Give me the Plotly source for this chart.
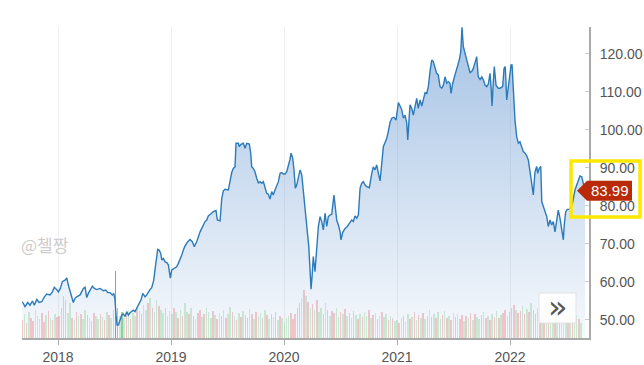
import plotly.graph_objects as go

# ---- price series (decimal year, close) ----
years = [
    2017.684, 2017.708, 2017.732, 2017.752, 2017.773, 2017.790, 2017.812, 2017.832, 2017.856, 2017.879,
    2017.900, 2017.929, 2017.950, 2017.967, 2017.988, 2018.003, 2018.020, 2018.038, 2018.062, 2018.077,
    2018.091, 2018.106, 2018.121, 2018.135, 2018.150, 2018.165, 2018.195, 2018.224, 2018.239, 2018.254,
    2018.268, 2018.283, 2018.304, 2018.321, 2018.342, 2018.372, 2018.401, 2018.422, 2018.440, 2018.460,
    2018.481, 2018.493, 2018.504, 2018.513, 2018.522, 2018.534, 2018.549, 2018.564, 2018.578, 2018.593,
    2018.608, 2018.622, 2018.637, 2018.652, 2018.666, 2018.681, 2018.696, 2018.717, 2018.735, 2018.750,
    2018.770, 2018.785, 2018.799, 2018.814, 2018.829, 2018.847, 2018.858, 2018.873, 2018.882, 2018.894,
    2018.909, 2018.918, 2018.932, 2018.947, 2018.962, 2018.976, 2018.985, 2018.994, 2019.006, 2019.029,
    2019.050, 2019.065, 2019.080, 2019.095, 2019.109, 2019.124, 2019.148, 2019.168, 2019.188, 2019.206,
    2019.227, 2019.242, 2019.257, 2019.272, 2019.286, 2019.301, 2019.316, 2019.330, 2019.351, 2019.374,
    2019.398, 2019.410, 2019.434, 2019.449, 2019.463, 2019.478, 2019.507, 2019.522, 2019.537, 2019.551,
    2019.566, 2019.575, 2019.596, 2019.604, 2019.619, 2019.640, 2019.655, 2019.670, 2019.693, 2019.705,
    2019.714, 2019.728, 2019.743, 2019.758, 2019.773, 2019.788, 2019.803, 2019.817, 2019.832, 2019.847,
    2019.861, 2019.876, 2019.891, 2019.905, 2019.920, 2019.935, 2019.950, 2019.965, 2019.980, 2019.994,
    2020.009, 2020.024, 2020.038, 2020.053, 2020.062, 2020.077, 2020.088, 2020.100, 2020.112, 2020.127,
    2020.142, 2020.157, 2020.171, 2020.180, 2020.195, 2020.206, 2020.219, 2020.230, 2020.239, 2020.248,
    2020.259, 2020.274, 2020.289, 2020.304, 2020.319, 2020.334, 2020.348, 2020.363, 2020.378, 2020.392,
    2020.407, 2020.422, 2020.442, 2020.451, 2020.466, 2020.481, 2020.496, 2020.504, 2020.519, 2020.540,
    2020.560, 2020.578, 2020.599, 2020.613, 2020.628, 2020.643, 2020.658, 2020.673, 2020.688, 2020.702,
    2020.717, 2020.732, 2020.755, 2020.776, 2020.790, 2020.805, 2020.820, 2020.835, 2020.850, 2020.865,
    2020.879, 2020.894, 2020.909, 2020.923, 2020.938, 2020.953, 2020.973, 2020.991, 2021.003, 2021.012,
    2021.027, 2021.042, 2021.056, 2021.071, 2021.086, 2021.095, 2021.106, 2021.115, 2021.130, 2021.144,
    2021.159, 2021.174, 2021.188, 2021.204, 2021.219, 2021.233, 2021.248, 2021.263, 2021.277, 2021.292,
    2021.307, 2021.321, 2021.336, 2021.351, 2021.365, 2021.381, 2021.396, 2021.410, 2021.425, 2021.440,
    2021.454, 2021.469, 2021.478, 2021.493, 2021.513, 2021.534, 2021.551, 2021.564, 2021.575, 2021.587,
    2021.602, 2021.617, 2021.631, 2021.646, 2021.661, 2021.675, 2021.693, 2021.705, 2021.719, 2021.735,
    2021.750, 2021.764, 2021.779, 2021.794, 2021.808, 2021.823, 2021.832, 2021.841, 2021.852, 2021.861,
    2021.876, 2021.896, 2021.912, 2021.935, 2021.947, 2021.958, 2021.971, 2021.985, 2022.000, 2022.009,
    2022.018, 2022.029, 2022.044, 2022.059, 2022.074, 2022.088, 2022.104, 2022.118, 2022.133, 2022.148,
    2022.162, 2022.177, 2022.192, 2022.206, 2022.221, 2022.236, 2022.245, 2022.259, 2022.272, 2022.281,
    2022.295, 2022.310, 2022.325, 2022.339, 2022.354, 2022.369, 2022.383, 2022.398, 2022.413, 2022.427,
    2022.442, 2022.458, 2022.472, 2022.481, 2022.493, 2022.507, 2022.525, 2022.540, 2022.555, 2022.575,
    2022.590, 2022.605, 2022.619, 2022.635, 2022.649, 2022.664,
]
prices = [
    54.8, 53.5, 54.6, 53.9, 55.0, 53.9, 55.4, 54.6, 54.8, 56.1,
    56.8, 56.6, 57.4, 58.6, 58.0, 57.4, 58.3, 60.1, 60.5, 61.1,
    59.2, 57.4, 56.1, 54.6, 55.7, 56.1, 56.6, 58.3, 58.6, 55.9,
    57.0, 57.9, 58.9, 58.3, 58.0, 58.3, 57.7, 57.9, 57.2, 57.2,
    56.6, 57.0, 55.3, 51.3, 48.7, 48.7, 50.0, 51.3, 51.6, 50.9,
    52.2, 51.3, 51.9, 52.4, 52.6, 52.2, 53.1, 54.4, 55.3, 57.0,
    56.1, 56.6, 57.4, 58.0, 58.5, 60.5, 63.2, 67.1, 68.6, 68.4,
    67.5, 65.8, 66.2, 65.3, 65.1, 64.5, 62.7, 61.0, 63.2, 63.6,
    64.0, 64.9, 65.8, 67.1, 68.4, 69.5, 70.6, 71.2, 70.6, 69.3,
    70.6, 72.1, 73.2, 74.1, 75.0, 75.9, 76.3, 77.4, 77.9, 78.5,
    78.8, 76.3, 76.1, 82.0, 84.0, 84.4, 84.2, 86.8, 88.8, 89.9,
    90.3, 96.5, 96.5, 95.6, 96.2, 96.5, 95.2, 96.5, 96.3, 93.9,
    90.3, 89.9, 89.0, 87.3, 86.1, 86.4, 86.0, 86.4, 84.4, 83.3,
    83.1, 81.8, 83.8, 82.9, 84.2, 85.5, 86.4, 88.6, 88.8, 88.4,
    88.4, 89.0, 90.3, 92.3, 93.9, 92.6, 89.5, 84.7, 85.5, 87.7,
    89.5, 88.2, 84.2, 79.8, 77.2, 73.7, 69.3, 63.2, 58.1, 61.4,
    66.7, 62.7, 69.3, 74.6, 77.2, 75.9, 73.7, 78.1, 74.6, 77.2,
    77.6, 77.8, 82.9, 80.7, 76.3, 75.0, 73.2, 71.1, 73.0, 74.1,
    74.6, 75.4, 76.3, 75.9, 77.4, 76.8, 77.6, 84.7, 86.0, 86.4,
    85.5, 85.1, 84.8, 88.5, 90.3, 89.5, 90.8, 88.6, 86.6, 91.2,
    95.6, 96.7, 97.8, 99.6, 102.0, 103.1, 103.3, 102.6, 104.8, 107.2,
    106.3, 105.3, 103.1, 103.9, 101.8, 97.4, 102.6, 106.6, 105.7, 103.9,
    106.1, 108.3, 105.7, 107.9, 106.3, 108.3, 109.8, 109.6, 111.4, 115.4,
    118.4, 118.0, 116.7, 114.9, 114.5, 111.4, 111.0, 111.8, 114.0, 112.3,
    112.7, 112.3, 109.6, 112.3, 114.5, 116.7, 118.4, 120.6, 127.0, 121.9,
    120.2, 118.4, 116.7, 115.1, 115.4, 116.2, 118.0, 119.3, 114.0, 113.3,
    114.0, 113.2, 111.8, 111.4, 112.1, 114.9, 111.4, 106.3, 112.7, 116.7,
    111.8, 111.0, 111.0, 111.4, 116.2, 116.7, 107.9, 111.4, 114.9, 117.1,
    117.1, 110.5, 102.6, 98.2, 96.5, 96.9, 95.6, 94.3, 93.9, 93.2,
    92.1, 89.5, 86.0, 82.9, 89.0, 90.4, 88.6, 89.9, 90.4, 81.1,
    79.8, 78.1, 77.2, 74.6, 76.3, 75.0, 75.9, 73.2, 76.3, 78.9,
    76.8, 73.7, 71.1, 75.4, 78.5, 79.1, 79.1, 79.8, 81.1, 84.2,
    85.5, 86.8, 87.9, 87.7, 86.0, 83.99,
]

# ---- weekly volume (millions) and up/down flags ----
volume_start = 2017.684
vol_2017 = [18, 24, 15, 26, 20, 17, 28, 22, 19, 25, 16, 23, 27, 20, 18, 24, 21]
dir_2017 = "rgrgrrgggrrgrgrgr"
vol_2018a = [22, 30, 42, 38, 25, 35, 20, 18, 26, 22, 24, 19, 28, 23, 20, 17, 25, 22, 19, 24, 21, 18, 26, 23, 20, 28]
dir_2018a = "rrrrggrgrgrggrgrrggrgrgrgr"
vol_2018b = [67, 30, 22, 26, 20, 24, 28, 19, 25, 22, 30, 27, 24, 33, 28, 35, 40, 30, 26, 38, 32, 28, 25, 30, 22, 27]
dir_2018b = "RGgGgrgrggrgrggrgrggrggrgg"
vol_2019 = [24, 30, 26, 20, 28, 22, 35, 26, 24, 30, 22, 19, 25, 28, 21, 24, 30, 26, 20, 27, 23, 19, 25, 22, 28, 20,
            24, 31, 26, 22, 18, 25, 21, 27, 23, 20, 29, 24, 19, 26, 22, 25, 20, 28, 23, 19, 24, 21, 26, 18, 22, 20]
dir_2019 = "grgrgrggrgrgr rgrgggrgrgrgr ggrgrgrgrrgrg rggrgrgrgrgrg"
vol_2020 = [16, 20, 22, 25, 19, 24, 30, 35, 40, 48, 42, 36, 30, 34, 28, 38, 26, 30, 24, 35, 28, 22, 27, 25, 30, 21,
            26, 24, 29, 22, 25, 20, 27, 23, 19, 24, 21, 26, 22, 28, 20, 23, 25, 19, 22, 26, 21, 24, 18, 22, 20, 17]
dir_2020 = "gggrrrrrgrgrg rgrggrgrgrrgg rgrgrgrgrgrgg rgrgrgrggrgrg"
vol_2021 = [18, 15, 20, 22, 17, 24, 19, 21, 26, 18, 23, 20, 25, 19, 22, 28, 21, 24, 20, 26, 19, 23, 27, 20, 22, 18,
            25, 21, 24, 19, 23, 17, 22, 20, 25, 18, 24, 21, 19, 23, 26, 20, 22, 18, 24, 21, 27, 20, 23, 25, 28, 22]
dir_2021 = "grgrggrgrgrgr grgrgrggrgrgr grgrrgrgrgrgg rgrgrgrgrgrrg"
vol_2022 = [26, 30, 33, 28, 25, 27, 32, 24, 29, 26, 35, 28, 24, 30, 22, 27, 25, 20, 24, 28, 22, 19, 25, 30, 21, 24,
            18, 22, 26, 20, 17, 23, 19, 15]
dir_2022 = "rrrgrrgrgrgrr grgrgrggrgrgg grgrggrg"

y_ticks = [50, 60, 70, 80, 90, 100, 110, 120]
x_ticks = [2018, 2019, 2020, 2021, 2022]
x_labels = ["2018", "2019", "2020", "2021", "2022"]
last_price = 83.99
watermark = "@첼짱"

volumes = vol_2017 + vol_2018a + vol_2018b + vol_2019 + vol_2020 + vol_2021 + vol_2022
dirs = (dir_2017 + dir_2018a + dir_2018b + dir_2019 + dir_2020 + dir_2021 + dir_2022).replace(" ", "")
assert len(volumes) == len(dirs), (len(volumes), len(dirs))
assert len(years) == len(prices), (len(years), len(prices))
vol_x = [volume_start + i / 52.18 for i in range(len(volumes))]
color_map = {
    "r": "rgba(240,125,125,0.40)",
    "g": "rgba(125,205,125,0.34)",
    "R": "rgba(236,80,80,0.8)",
    "G": "rgba(80,185,80,0.6)",
}
vol_colors = [color_map[c] for c in dirs]
vol_widths = [0.0145 if c == "R" else 0.0135 for c in dirs]

Y_MIN, Y_MAX = 45.26, 127.1
X_MIN, X_MAX = 2017.681, 2022.699

fig = go.Figure()
fig.add_trace(go.Bar(
    x=vol_x, y=volumes, marker=dict(color=vol_colors, line=dict(width=0)),
    width=vol_widths, yaxis="y", hoverinfo="skip", showlegend=False,
))
fig.add_trace(go.Scatter(
    x=years, y=prices, mode="lines", yaxis="y2",
    line=dict(color="#2b7bbb", width=1.4),
    fill="tozeroy",
    fillgradient=dict(
        type="vertical", start=Y_MIN, stop=Y_MAX,
        colorscale=[[0, "rgba(70,130,200,0.05)"], [1, "rgba(70,130,200,0.48)"]],
    ),
    showlegend=False,
))

def px_x(p):
    return (p - 22) / 567.0

def px_y(p):
    return (338 - p) / 311.0

ly = (last_price - Y_MIN) / (Y_MAX - Y_MIN)
hh = 10 / 311.0
shapes = [
    # yellow highlight box
    dict(type="rect", xref="paper", yref="paper", x0=px_x(571), x1=px_x(640), y0=px_y(217), y1=px_y(161),
         line=dict(color="rgb(255,232,0)", width=3.5), fillcolor="rgba(0,0,0,0)", layer="above"),
    # price label tag
    dict(type="path", xref="paper", yref="paper",
         path=f"M {px_x(577)},{ly} L {px_x(587)},{ly + hh} L {px_x(632)},{ly + hh} "
              f"L {px_x(632)},{ly - hh} L {px_x(587)},{ly - hh} Z",
         fillcolor="rgb(184,42,8)", line=dict(width=0), layer="above"),
    # scroll button
    dict(type="rect", xref="paper", yref="paper", x0=px_x(539), x1=px_x(576), y0=px_y(323), y1=px_y(293),
         fillcolor="rgba(255,255,255,0.9)", line=dict(color="#e2e2e2", width=1), layer="above"),
]
annotations = [
    dict(text=f"{last_price:.2f}", xref="paper", yref="paper", x=px_x(609.5), y=ly, showarrow=False,
         xanchor="center", yanchor="middle",
         font=dict(color="white", size=15, family="Liberation Sans, Arial")),
    dict(text="»", xref="paper", yref="paper", x=px_x(557.5), y=px_y(307), showarrow=False,
         xanchor="center", yanchor="middle",
         font=dict(color="#555", size=32, family="DejaVu Sans")),
    dict(text=watermark, xref="paper", yref="paper", x=px_x(45), y=px_y(244), showarrow=False,
         xanchor="center", yanchor="middle",
         font=dict(color="#cdcdcd", size=17, family="Noto Sans CJK KR")),
]

fig.update_layout(
    width=644, height=365,
    margin=dict(l=22, r=55, t=27, b=27, autoexpand=False),
    paper_bgcolor="white", plot_bgcolor="white",
    bargap=0,
    font=dict(family="Liberation Sans, Arial", size=14, color="#555"),
    xaxis=dict(
        range=[X_MIN, X_MAX], tickvals=x_ticks, ticktext=x_labels,
        showgrid=True, gridcolor="#efefef", gridwidth=1,
        showline=True, linecolor="#aaaaaa", linewidth=2,
        ticks="outside", ticklen=5, tickcolor="#aaaaaa", zeroline=False,
        tickfont=dict(size=14, color="#555"),
    ),
    yaxis=dict(range=[0, 311], visible=False, showgrid=False, zeroline=False),
    yaxis2=dict(
        overlaying="y", side="right", anchor="x",
        range=[Y_MIN, Y_MAX], tickvals=y_ticks, tickformat=".2f",
        showgrid=False, zeroline=False,
        showline=True, linecolor="#aaaaaa", linewidth=2,
        ticks="inside", ticklen=4, tickcolor="#cccccc",
        ticklabelstandoff=6,
        tickfont=dict(size=14, color="#555"),
    ),
    shapes=shapes, annotations=annotations,
)

fig.write_html(
    "out.html",
    config={"displayModeBar": False},
    post_script="document.body.style.margin='0';document.body.style.overflow='hidden';",
)
